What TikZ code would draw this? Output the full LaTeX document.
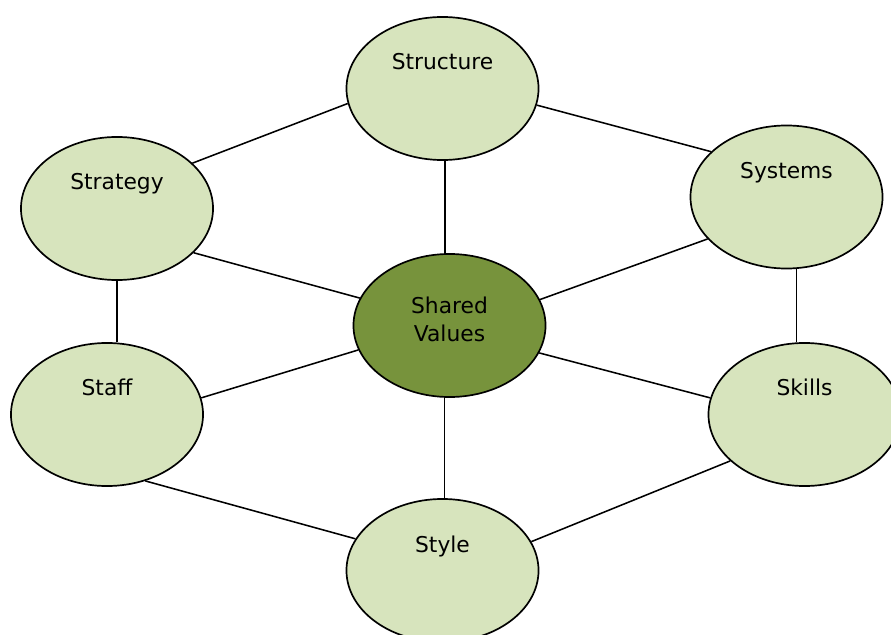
\documentclass[tikz,border=0pt]{standalone}
\usepackage{fontspec}
\setmainfont{DejaVu Sans}
\usepackage{tikz}
\usetikzlibrary{shapes.geometric}
\definecolor{slight}{HTML}{D7E4BD}
\definecolor{sdark}{HTML}{77933C}
\tikzset{
  sbox/.style={ellipse, draw=black, line width=1.2pt, fill=slight,
               minimum width=4.8cm, minimum height=3.575cm, inner sep=0pt},
  dbox/.style={sbox, fill=sdark},
  sfont/.style={inner sep=0pt, font=\fontsize{15.5}{20.4}\selectfont},
  stext/.style={sfont, anchor=base, yshift=0.4625cm},
  link/.style={line width=1.1pt, black},
}

\begin{document}
\begin{tikzpicture}[x=0.025cm, y=-0.025cm]

  \useasboundingbox (0,0) rectangle (891,635);
  \clip (0,0) rectangle (891,635);

  \node[sbox] (structure) at (442.5, 88.5) {};
  \node[sbox] (strategy) at (117, 208.5) {};
  \node[sbox] (systems) at (786.5, 197) {};
  \node[dbox] (shared) at (449.5, 325.5) {};
  \node[sbox] (staff) at (107, 414.5) {};
  \node[sbox] (skills) at (804.5, 414.5) {};
  \node[sbox] (style) at (442.5, 570.5) {};

  \node[stext] (structure-t) at (structure) {Structure};
  \node[stext] (strategy-t) at (strategy) {Strategy};
  \node[stext] (systems-t) at (systems) {Systems};
  \node[stext] (staff-t) at (staff) {Staff};
  \node[stext] (skills-t) at (skills) {Skills};
  \node[stext] (style-t) at (style) {Style};
  \node[sfont, yshift=0.15cm, align=center] (shared-t) at (shared) {Shared\\Values};

  \draw[link] (strategy.31.7) -- (structure.189.5);
  \draw[link] (structure.350.7) -- (systems.149.4);
  \draw[link] (structure.-88) -- (structure.-88 |- shared.north);
  \draw[link] (strategy.330) -- (shared.163.1);
  \draw[link] (shared.16.7) -- (systems.208.3);
  \draw[link] (strategy.south) -- (strategy.south |- staff.north);
  \draw[link] (systems.-82) -- (systems.-82 |- skills.north);
  \draw[link] (staff.10.3) -- (shared.195.7);
  \draw[link] (skills.170.2) -- (shared.343.7);
  \draw[link] (shared.-94) -- (shared.-94 |- style.north);
  \draw[link] (staff.300) -- (style.160.6);
  \draw[link] (skills.212.5) -- (style.18.8);

\end{tikzpicture}
\end{document}
